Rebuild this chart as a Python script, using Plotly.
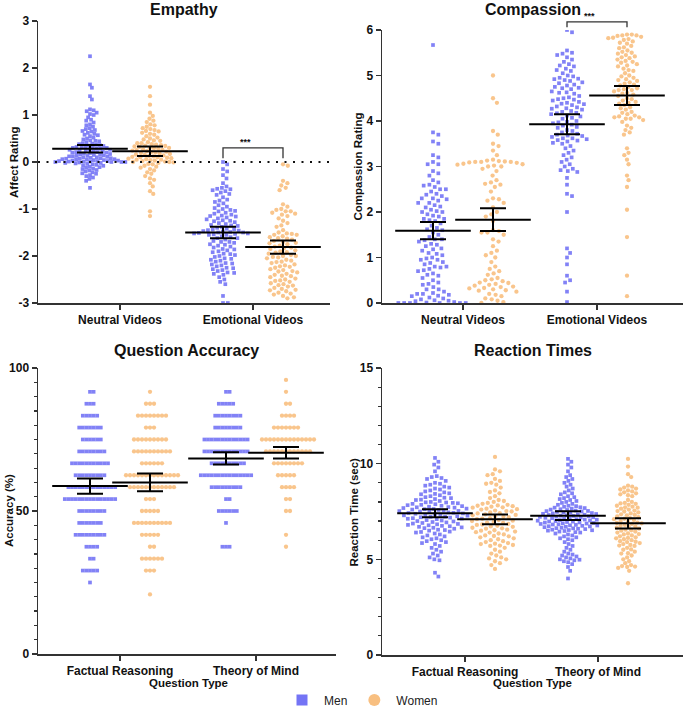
import numpy as np
import plotly.graph_objects as go

W, H = 685, 714
MEN_COLOR = '#7474F5'
WOMEN_COLOR = '#F8BF80'
AXIS_COLOR = '#333333'
FONT = 'Liberation Sans, Arial, sans-serif'

# ---------------- data ----------------
video_categories = ["Neutral Videos", "Emotional Videos"]
question_categories = ["Factual Reasoning", "Theory of Mind"]
groups = ["Men", "Women"]

empathy_neutral_men = [2.25, 1.65, 1.58, 1.40, 1.33, 1.12, 1.10, 1.08, 1.05, 1.02, 1.00, 0.95, 0.88, 0.84, 0.80,
    0.78, 0.75, 0.72, 0.70, 0.66, 0.62, 0.60, 0.58, 0.55, 0.52, 0.50, 0.48, 0.46, 0.44, 0.42, 0.40, 0.38, 0.37,
    0.35, 0.34, 0.33, 0.32, 0.30, 0.30, 0.28, 0.27, 0.26, 0.25, 0.24, 0.22, 0.21, 0.20, 0.20, 0.18, 0.17, 0.16,
    0.15, 0.14, 0.13, 0.12, 0.11, 0.10, 0.10, 0.09, 0.08, 0.07, 0.06, 0.05, 0.05, 0.04, 0.03, 0.02, 0.02, 0.01,
    0.00, 0.00, 0.00, -0.01, -0.02, -0.03, -0.04, -0.05, -0.06, -0.08, -0.10, -0.12, -0.14, -0.15, -0.18, -0.20,
    -0.22, -0.25, -0.28, -0.30, -0.33, -0.36, -0.40, -0.55, 0.36, 0.31, 0.29, 0.23, 0.19, 0.13, 0.08, 0.03, 0.01,
    0.06, 0.45, 0.39, 0.57, 0.65, 0.68, 0.90, -0.07, -0.11, -0.17, -0.24, 0.01, 0.04, 0.07, 0.12, 0.16, 0.21,
    0.26, 0.31, 0.00, -0.02, 0.02]
empathy_neutral_women = [1.60, 1.40, 1.22, 1.05, 0.98, 0.92, 0.88, 0.85, 0.80, 0.75, 0.72, 0.70, 0.68, 0.65, 0.62,
    0.60, 0.55, 0.52, 0.50, 0.48, 0.45, 0.42, 0.40, 0.40, 0.38, 0.36, 0.35, 0.33, 0.32, 0.30, 0.30, 0.28, 0.27,
    0.25, 0.24, 0.22, 0.21, 0.20, 0.18, 0.17, 0.15, 0.14, 0.12, 0.11, 0.10, 0.10, 0.08, 0.07, 0.05, 0.05, 0.04,
    0.03, 0.02, 0.01, 0.00, 0.00, -0.02, -0.04, -0.05, -0.08, -0.10, -0.12, -0.15, -0.18, -0.22, -0.25, -0.30,
    -0.35, -0.38, -0.45, -0.52, -0.62, -0.68, -1.05, -1.15, 0.58, 0.46, 0.37, 0.26, 0.19, 0.16, 0.09, 0.06, 0.13,
    0.23, 0.29, 0.34, -0.01, 0.78, 0.66]
empathy_emotional_men = [0.00, -0.05, -0.15, -0.20, -0.28, -0.35, -0.45, -0.52, -0.55, -0.57, -0.58, -0.60, -0.62,
    -0.65, -0.70, -0.75, -0.80, -0.85, -0.88, -0.92, -0.95, -1.00, -1.02, -1.05, -1.08, -1.10, -1.12, -1.15,
    -1.18, -1.20, -1.22, -1.25, -1.28, -1.30, -1.32, -1.35, -1.38, -1.40, -1.42, -1.45, -1.47, -1.48, -1.50,
    -1.50, -1.52, -1.52, -1.55, -1.55, -1.58, -1.60, -1.62, -1.65, -1.68, -1.70, -1.72, -1.75, -1.78, -1.80,
    -1.82, -1.85, -1.88, -1.90, -1.92, -1.95, -1.98, -2.00, -2.02, -2.05, -2.08, -2.10, -2.12, -2.15, -2.18,
    -2.20, -2.22, -2.25, -2.28, -2.30, -2.32, -2.35, -2.38, -2.40, -2.45, -2.50, -2.55, -2.60, -2.85, -3.00,
    -3.00, -1.49, -1.51, -1.53, -1.46, -1.43, -1.36, -1.26, -1.16, -0.98, -0.82, -0.68, -1.62, -1.70, -1.76,
    -1.86, -1.96, -2.06, -2.16, -2.26, -2.36, -1.54, -1.44, -1.34, -1.24, -1.14, -1.04]
empathy_emotional_women = [-0.05, -0.08, -0.40, -0.45, -0.50, -0.55, -0.60, -0.90, -0.95, -1.00, -1.02, -1.05,
    -1.05, -1.08, -1.10, -1.15, -1.20, -1.25, -1.30, -1.35, -1.45, -1.50, -1.52, -1.55, -1.55, -1.58, -1.60,
    -1.62, -1.65, -1.68, -1.70, -1.72, -1.75, -1.78, -1.80, -1.82, -1.85, -1.88, -1.90, -1.92, -1.95, -1.98,
    -2.00, -2.00, -2.02, -2.05, -2.08, -2.10, -2.12, -2.15, -2.18, -2.20, -2.22, -2.25, -2.28, -2.30, -2.32,
    -2.35, -2.38, -2.40, -2.42, -2.45, -2.48, -2.50, -2.52, -2.55, -2.58, -2.60, -2.62, -2.65, -2.68, -2.70,
    -2.72, -2.75, -2.78, -2.80, -2.82, -2.85, -2.88, -2.90, -1.53, -1.63, -1.73, -1.83, -1.93, -2.03, -2.13,
    -2.23, -2.33, -2.43, -2.53, -2.63, -2.73, -1.12, -1.38]

compassion_neutral_men = [5.67, 3.75, 3.70, 3.55, 3.50, 3.25, 3.20, 3.10, 3.05, 3.05, 2.90, 2.85, 2.80, 2.70, 2.65,
    2.60, 2.55, 2.50, 2.50, 2.45, 2.40, 2.35, 2.30, 2.30, 2.25, 2.20, 2.20, 2.15, 2.10, 2.05, 2.00, 2.00, 1.95,
    1.90, 1.85, 1.85, 1.80, 1.75, 1.70, 1.65, 1.60, 1.55, 1.50, 1.45, 1.40, 1.40, 1.35, 1.30, 1.25, 1.20, 1.15,
    1.10, 1.05, 1.00, 0.95, 0.95, 0.90, 0.85, 0.80, 0.80, 0.78, 0.75, 0.70, 0.65, 0.60, 0.55, 0.50, 0.45, 0.40,
    0.35, 0.30, 0.30, 0.25, 0.20, 0.20, 0.18, 0.15, 0.12, 0.10, 0.08, 0.05, 0.04, 0.02, 0.00, 0.00, 0.00, 0.00,
    0.00, 0.00, 2.28, 2.12, 2.02, 1.92, 1.38, 1.08, 0.98, 0.88, 0.72, 0.62, 0.42, 0.22, 0.16, 0.06, 0.01, 2.58,
    2.38, 1.82, 1.62, 1.28, 1.18]
compassion_neutral_women = [5.00, 4.50, 4.40, 3.78, 3.70, 3.50, 3.45, 3.35, 3.25, 3.15, 3.12, 3.10, 3.10, 3.10,
    3.08, 3.05, 3.02, 3.00, 3.00, 2.90, 2.80, 2.70, 2.65, 2.60, 2.55, 2.45, 2.30, 2.25, 2.20, 2.10, 2.00, 1.95,
    1.90, 1.80, 1.60, 1.55, 1.55, 1.50, 1.40, 1.35, 1.25, 1.10, 1.05, 1.00, 0.90, 0.80, 0.75, 0.70, 0.62, 0.55,
    0.52, 0.50, 0.45, 0.42, 0.40, 0.38, 0.35, 0.32, 0.30, 0.28, 0.25, 0.20, 0.15, 0.10, 0.05, 0.00, 3.13, 3.11,
    3.09, 3.06, 3.04, 2.95, 2.62, 2.28, 1.58, 0.48, 0.44, 0.36, 0.33, 0.27, 0.18, 0.08, 0.02, 0.65, 1.15]
compassion_emotional_men = [6.00, 5.95, 5.55, 5.50, 5.48, 5.45, 5.40, 5.35, 5.30, 5.25, 5.20, 5.15, 5.10, 5.05,
    5.00, 4.98, 4.95, 4.92, 4.90, 4.88, 4.85, 4.80, 4.78, 4.75, 4.72, 4.70, 4.65, 4.62, 4.60, 4.55, 4.52, 4.50,
    4.48, 4.45, 4.42, 4.40, 4.38, 4.35, 4.32, 4.30, 4.28, 4.25, 4.22, 4.20, 4.18, 4.15, 4.12, 4.10, 4.05, 4.00,
    3.98, 3.95, 3.92, 3.90, 3.85, 3.80, 3.78, 3.75, 3.72, 3.70, 3.65, 3.62, 3.60, 3.58, 3.55, 3.52, 3.50, 3.45,
    3.40, 3.35, 3.30, 3.25, 3.20, 3.15, 3.10, 3.05, 3.00, 2.95, 2.92, 2.90, 2.88, 2.75, 2.60, 2.40, 2.35, 2.00,
    1.20, 1.10, 1.00, 0.85, 0.60, 0.50, 0.45, 0.25, 0.02, 4.93, 4.83, 4.73, 4.63, 4.47, 4.37, 4.27, 4.17, 4.07,
    3.97, 3.87, 3.67, 3.57, 3.62, 3.68, 5.12, 5.22]
compassion_emotional_women = [5.90, 5.90, 5.88, 5.88, 5.85, 5.82, 5.80, 5.78, 5.75, 5.70, 5.65, 5.60, 5.55, 5.50,
    5.48, 5.45, 5.42, 5.40, 5.35, 5.30, 5.28, 5.25, 5.22, 5.20, 5.15, 5.10, 5.05, 5.00, 4.98, 4.95, 4.92, 4.90,
    4.85, 4.80, 4.78, 4.75, 4.72, 4.70, 4.68, 4.65, 4.62, 4.60, 4.55, 4.50, 4.48, 4.45, 4.42, 4.40, 4.35, 4.30,
    4.28, 4.25, 4.20, 4.15, 4.12, 4.10, 4.08, 4.05, 4.05, 4.02, 3.98, 3.90, 3.85, 3.80, 3.75, 3.70, 3.40, 3.30,
    3.25, 3.15, 3.05, 2.80, 2.70, 2.55, 2.05, 1.45, 0.60, 0.15, 5.87, 5.83, 5.72, 5.52, 5.32, 5.12, 4.88, 4.58,
    4.38, 4.18, 4.08, 4.68, 5.38, 5.62, 4.82]

accuracy_levels = [20.83, 25.0, 29.17, 33.33, 37.5, 41.67, 45.83, 50.0, 54.17, 58.33, 62.5, 66.67, 70.83, 75.0,
    79.17, 83.33, 87.5, 91.67, 95.83]
accuracy_factual_men_counts = [0, 1, 5, 2, 4, 9, 7, 8, 15, 14, 9, 11, 8, 6, 7, 5, 3, 2, 0]
accuracy_factual_women_counts = [1, 0, 3, 6, 2, 5, 10, 5, 3, 12, 14, 6, 10, 9, 3, 8, 3, 1, 0]
accuracy_tom_men_counts = [0, 0, 0, 0, 3, 0, 1, 6, 2, 9, 15, 10, 13, 13, 8, 8, 5, 2, 0]
accuracy_tom_women_counts = [0, 0, 0, 0, 1, 1, 0, 2, 2, 4, 5, 8, 12, 14, 7, 4, 2, 1, 1]

rt_factual_men = [10.30, 10.10, 9.95, 9.80, 9.60, 9.35, 9.30, 9.25, 9.20, 9.10, 9.00, 8.95, 8.90, 8.85, 8.80, 8.75,
    8.70, 8.65, 8.60, 8.55, 8.50, 8.45, 8.40, 8.35, 8.30, 8.25, 8.20, 8.15, 8.10, 8.05, 8.00, 7.98, 7.95, 7.90,
    7.88, 7.85, 7.80, 7.78, 7.75, 7.72, 7.70, 7.68, 7.65, 7.62, 7.60, 7.58, 7.55, 7.52, 7.50, 7.48, 7.45, 7.42,
    7.40, 7.38, 7.35, 7.32, 7.30, 7.28, 7.25, 7.22, 7.20, 7.18, 7.15, 7.12, 7.10, 7.05, 7.00, 6.98, 6.95, 6.90,
    6.85, 6.80, 6.78, 6.75, 6.70, 6.65, 6.60, 6.55, 6.50, 6.45, 6.40, 6.35, 6.30, 6.25, 6.20, 6.15, 6.10, 6.05,
    6.00, 5.95, 5.90, 5.85, 5.80, 5.70, 5.60, 5.50, 5.40, 5.30, 5.20, 5.10, 5.00, 4.95, 4.30, 4.10, 7.93, 7.83,
    7.73, 7.63, 7.53, 7.43, 7.33, 7.23, 7.13, 7.03, 6.93, 6.83, 6.73, 6.63, 6.53, 6.43, 8.42, 8.22, 8.12, 7.97,
    6.87, 6.67]
rt_factual_women = [10.35, 9.70, 9.60, 9.45, 9.40, 9.20, 9.10, 9.00, 8.95, 8.90, 8.60, 8.45, 8.30, 8.20, 8.10,
    8.05, 8.00, 7.95, 7.90, 7.85, 7.80, 7.78, 7.75, 7.70, 7.65, 7.60, 7.55, 7.50, 7.45, 7.40, 7.35, 7.30, 7.25,
    7.20, 7.15, 7.10, 7.05, 7.00, 6.95, 6.90, 6.85, 6.80, 6.75, 6.70, 6.65, 6.60, 6.55, 6.50, 6.45, 6.40, 6.35,
    6.30, 6.25, 6.20, 6.15, 6.10, 6.05, 6.00, 5.95, 5.90, 5.85, 5.80, 5.75, 5.70, 5.60, 5.50, 5.40, 5.30, 5.20,
    5.10, 5.05, 5.00, 4.90, 4.80, 4.70, 4.50, 7.82, 7.72, 7.62, 7.52, 7.42, 7.32, 7.22, 7.12, 7.02, 6.92, 6.82,
    6.72, 6.62, 6.52, 5.82, 5.72, 8.52, 8.75, 6.42, 6.22]
rt_tom_men = [10.25, 10.10, 9.95, 9.80, 9.60, 9.40, 9.30, 9.20, 9.10, 9.00, 8.90, 8.80, 8.70, 8.60, 8.50, 8.45,
    8.40, 8.30, 8.25, 8.20, 8.15, 8.10, 8.05, 8.00, 7.95, 7.90, 7.85, 7.80, 7.78, 7.75, 7.72, 7.70, 7.68, 7.65,
    7.62, 7.60, 7.58, 7.55, 7.52, 7.50, 7.48, 7.45, 7.42, 7.40, 7.38, 7.35, 7.32, 7.30, 7.28, 7.25, 7.22, 7.20,
    7.18, 7.15, 7.12, 7.10, 7.08, 7.05, 7.02, 7.00, 6.98, 6.95, 6.92, 6.90, 6.88, 6.85, 6.82, 6.80, 6.78, 6.75,
    6.72, 6.70, 6.68, 6.65, 6.62, 6.60, 6.58, 6.55, 6.52, 6.50, 6.48, 6.45, 6.42, 6.40, 6.35, 6.30, 6.25, 6.20,
    6.15, 6.10, 6.05, 6.00, 5.90, 5.80, 5.70, 5.60, 5.50, 5.40, 5.30, 5.20, 5.10, 5.05, 5.00, 4.95, 4.90, 4.85,
    4.75, 4.60, 4.40, 4.00, 7.53, 7.43, 7.33, 7.23, 7.13, 7.03, 6.93, 6.83, 6.73, 6.63, 6.53, 7.37, 7.27, 7.17,
    7.07, 6.97, 6.87, 6.77, 5.15, 5.25, 4.98]
rt_tom_women = [10.25, 9.85, 9.45, 9.30, 8.85, 8.80, 8.75, 8.70, 8.60, 8.50, 8.45, 8.40, 8.30, 8.10, 8.00, 7.95,
    7.90, 7.85, 7.80, 7.75, 7.70, 7.65, 7.60, 7.55, 7.50, 7.45, 7.40, 7.35, 7.30, 7.25, 7.20, 7.15, 7.10, 7.05,
    7.00, 6.95, 6.90, 6.85, 6.80, 6.75, 6.70, 6.65, 6.60, 6.55, 6.50, 6.45, 6.40, 6.35, 6.30, 6.25, 6.20, 6.15,
    6.10, 6.05, 6.00, 5.95, 5.90, 5.85, 5.80, 5.75, 5.70, 5.60, 5.50, 5.40, 5.30, 5.20, 5.10, 5.00, 4.90, 4.80,
    4.70, 4.65, 4.60, 4.55, 4.40, 3.75, 7.92, 7.72, 7.52, 7.32, 7.12, 6.92, 6.72, 6.52, 6.32, 6.12, 5.92, 5.72,
    5.52, 5.32, 8.55, 8.65, 8.35, 4.62, 6.88]

# group means and error half-widths: [neutral/factual, emotional/tom]
empathy_mean_men = [0.28, -1.50];   empathy_err_men = [0.08, 0.12]
empathy_mean_women = [0.23, -1.81]; empathy_err_women = [0.10, 0.14]
compassion_mean_men = [1.59, 3.93];   compassion_err_men = [0.19, 0.22]
compassion_mean_women = [1.83, 4.56]; compassion_err_women = [0.25, 0.21]
accuracy_mean_men = [58.7, 68.4];   accuracy_err_men = [2.7, 2.1]
accuracy_mean_women = [60.0, 70.4]; accuracy_err_women = [3.1, 2.0]
rt_mean_men = [7.41, 7.28];   rt_err_men = [0.21, 0.23]
rt_mean_women = [7.09, 6.88]; rt_err_women = [0.25, 0.27]

# ---------------- layout geometry (pixels) ----------------
panels = {
    'empathy':    dict(ax='', left=38, right=330, top=21, bottom=303, yr=(-3, 3), ticks=(120, 253)),
    'compassion': dict(ax='2', left=382, right=683, top=30, bottom=303, yr=(0, 6), ticks=(463, 597)),
    'accuracy':   dict(ax='3', left=38, right=336, top=368, bottom=654, yr=(0, 100), ticks=(120, 256)),
    'rt':         dict(ax='4', left=382, right=683, top=368, bottom=655, yr=(0, 15), ticks=(465, 598)),
}
GROUP_PX = 30
for p in panels.values():
    ppu = p['ticks'][1] - p['ticks'][0]
    p['ppu'] = ppu
    p['xr'] = (-(p['ticks'][0] - p['left']) / ppu, 1 + (p['right'] - p['ticks'][1]) / ppu)
    p['ypx'] = (p['bottom'] - p['top']) / (p['yr'][1] - p['yr'][0])
    p['off'] = GROUP_PX / ppu

# swarm spacing (px) per panel / category / group  [men, women]
SPACING = {
    ('empathy', 0): (3.8, 4.3), ('empathy', 1): (4.8, 5.0),
    ('compassion', 0): (5.8, 6.0), ('compassion', 1): (5.5, 4.8),
    ('accuracy', 0): (3.6, 4.0), ('accuracy', 1): (3.6, 4.0),
    ('rt', 0): (5.1, 5.3), ('rt', 1): (4.4, 4.3),
}


def swarm(vals, ypx, d):
    y = np.asarray(vals, dtype=float) * ypx
    offs = np.zeros(len(y))
    px_, py_ = [], []
    for i in np.argsort(-y, kind='stable'):
        yi = y[i]
        neigh = [(a, b) for a, b in zip(px_, py_) if abs(b - yi) < d]
        cands = [0.0]
        for a, b in neigh:
            dx = np.sqrt(d * d - (b - yi) ** 2)
            cands += [a + dx, a - dx]
        cands = sorted(cands, key=lambda c: round(abs(c), 6))
        for c in cands:
            if all((c - a) ** 2 + (yi - b) ** 2 >= d * d - 1e-6 for a, b in neigh):
                offs[i] = c
                break
        px_.append(offs[i]); py_.append(yi)
    return offs


fig = go.Figure()


def add_points(pkey, cat_idx, vals, men):
    p = panels[pkey]
    d = SPACING[(pkey, cat_idx)][0 if men else 1]
    offs = swarm(vals, p['ypx'], d) / p['ppu']
    center = cat_idx + (-p['off'] if men else p['off'])
    fig.add_trace(go.Scatter(
        x=center + offs, y=vals, mode='markers', showlegend=False, hoverinfo='skip',
        xaxis='x' + p['ax'], yaxis='y' + p['ax'],
        marker=dict(symbol='square' if men else 'circle', size=3.7 if men else 4.3,
                    color=MEN_COLOR if men else WOMEN_COLOR, opacity=0.9, line=dict(width=0))))


def add_means(pkey, means, errs, men):
    p = panels[pkey]
    xs = [i + (-p['off'] if men else p['off']) for i in range(2)]
    fig.add_trace(go.Scatter(
        x=xs, y=means, mode='markers', showlegend=False, hoverinfo='skip',
        xaxis='x' + p['ax'], yaxis='y' + p['ax'],
        marker=dict(symbol='line-ew', size=54, color='black', line=dict(width=2, color='black')),
        error_y=dict(type='data', array=errs, visible=True, color='black', thickness=2, width=13)))


add_points('empathy', 0, empathy_neutral_men, True)
add_points('empathy', 0, empathy_neutral_women, False)
add_points('empathy', 1, empathy_emotional_men, True)
add_points('empathy', 1, empathy_emotional_women, False)
add_points('compassion', 0, compassion_neutral_men, True)
add_points('compassion', 0, compassion_neutral_women, False)
add_points('compassion', 1, compassion_emotional_men, True)
add_points('compassion', 1, compassion_emotional_women, False)
add_points('accuracy', 0, list(np.repeat(accuracy_levels, accuracy_factual_men_counts)), True)
add_points('accuracy', 0, list(np.repeat(accuracy_levels, accuracy_factual_women_counts)), False)
add_points('accuracy', 1, list(np.repeat(accuracy_levels, accuracy_tom_men_counts)), True)
add_points('accuracy', 1, list(np.repeat(accuracy_levels, accuracy_tom_women_counts)), False)
add_points('rt', 0, rt_factual_men, True)
add_points('rt', 0, rt_factual_women, False)
add_points('rt', 1, rt_tom_men, True)
add_points('rt', 1, rt_tom_women, False)

add_means('empathy', empathy_mean_men, empathy_err_men, True)
add_means('empathy', empathy_mean_women, empathy_err_women, False)
add_means('compassion', compassion_mean_men, compassion_err_men, True)
add_means('compassion', compassion_mean_women, compassion_err_women, False)
add_means('accuracy', accuracy_mean_men, accuracy_err_men, True)
add_means('accuracy', accuracy_mean_women, accuracy_err_women, False)
add_means('rt', rt_mean_men, rt_err_men, True)
add_means('rt', rt_mean_women, rt_err_women, False)

# legend entries
fig.add_trace(go.Scatter(x=[None], y=[None], mode='markers', name=groups[0],
                         marker=dict(symbol='square', size=11, color=MEN_COLOR)))
fig.add_trace(go.Scatter(x=[None], y=[None], mode='markers', name=groups[1],
                         marker=dict(symbol='circle', size=12, color=WOMEN_COLOR)))

tickfont = dict(family=FONT, size=12, color='#111111', weight='bold')
layout = dict(width=W, height=H, margin=dict(l=0, r=0, t=0, b=0, autoexpand=False),
              paper_bgcolor='white', plot_bgcolor='white', font=dict(family=FONT),
              showlegend=True,
              legend=dict(orientation='h', x=280 / W, y=1 - 700 / H, xanchor='left', yanchor='middle',
                          font=dict(family=FONT, size=12, color='#222222'), itemwidth=34,
                          bgcolor='rgba(0,0,0,0)'))

panel_info = {
    'empathy': dict(cats=video_categories, title='Empathy', ytitle='Affect Rating', ytx=14,
                    tickvals=[-3, -2, -1, 0, 1, 2, 3], minor=None),
    'compassion': dict(cats=video_categories, title='Compassion', ytitle='Compassion Rating', ytx=357,
                       tickvals=[0, 1, 2, 3, 4, 5, 6], minor=None),
    'accuracy': dict(cats=question_categories, title='Question Accuracy', ytitle='Accuracy (%)', ytx=9,
                     tickvals=[0, 50, 100], minor=5),
    'rt': dict(cats=question_categories, title='Reaction Times', ytitle='Reaction Time (sec)', ytx=353,
               tickvals=[0, 5, 10, 15], minor=1),
}

annotations = []
for key, p in panels.items():
    info = panel_info[key]
    xname = 'xaxis' + p['ax']
    yname = 'yaxis' + p['ax']
    xd = [p['left'] / W, p['right'] / W]
    yd = [1 - p['bottom'] / H, 1 - p['top'] / H]
    layout[xname] = dict(domain=xd, range=list(p['xr']), anchor='y' + p['ax'],
                         tickvals=[0, 1], ticktext=info['cats'], ticks='outside', ticklen=5,
                         tickwidth=1.5, tickcolor=AXIS_COLOR, showline=True, linecolor=AXIS_COLOR,
                         linewidth=1.5, showgrid=False, zeroline=False, tickfont=tickfont, fixedrange=True)
    ydict = dict(domain=yd, range=list(p['yr']), anchor='x' + p['ax'],
                 tickvals=info['tickvals'], ticktext=[str(v) for v in info['tickvals']],
                 ticks='outside', ticklen=5, tickwidth=1.5, tickcolor=AXIS_COLOR, showline=True,
                 linecolor=AXIS_COLOR, linewidth=1.5, showgrid=False, zeroline=False, tickfont=tickfont,
                 fixedrange=True)
    if info['minor']:
        ydict['minor'] = dict(dtick=info['minor'], ticks='outside', ticklen=3, tickwidth=1.2,
                              tickcolor=AXIS_COLOR, showgrid=False)
    layout[yname] = ydict
    cx = (p['left'] + p['right']) / 2
    ty = 10 if p['top'] < 100 else 350
    annotations.append(dict(text='<b>%s</b>' % info['title'], x=cx / W, y=1 - ty / H, xref='paper',
                            yref='paper', showarrow=False, xanchor='center', yanchor='middle',
                            font=dict(family=FONT, size=16, color='#111111')))
    annotations.append(dict(text='<b>%s</b>' % info['ytitle'], x=info['ytx'] / W,
                            y=1 - (p['top'] + p['bottom']) / 2 / H, xref='paper', yref='paper',
                            textangle=-90, showarrow=False, xanchor='center', yanchor='middle',
                            font=dict(family=FONT, size=11.5, color='#111111')))
    if key in ('accuracy', 'rt'):
        annotations.append(dict(text='<b>Question Type</b>', x=(p['left'] + 150) / W, y=1 - 683 / H,
                                xref='paper', yref='paper', showarrow=False, xanchor='center',
                                yanchor='middle', font=dict(family=FONT, size=11.5, color='#111111')))

shapes = []
# dotted zero line on empathy panel
shapes.append(dict(type='line', xref='x domain', yref='y', x0=0, x1=1, y0=0, y1=0,
                   line=dict(color='#111111', width=2, dash='2px,6.5px'), layer='above'))


def bracket(pkey, y_top, y_leg):
    p = panels[pkey]
    xr, yr = p['xr'], p['yr']
    fx = lambda v: (v - xr[0]) / (xr[1] - xr[0])
    fy = lambda v: (v - yr[0]) / (yr[1] - yr[0])
    x0, x1 = fx(1 - p['off']), fx(1 + p['off'])
    ref = 'x' + p['ax']
    shapes.append(dict(type='path', xref=ref + ' domain', yref='y' + p['ax'] + ' domain',
                       path='M %f,%f L %f,%f L %f,%f L %f,%f' % (x0, fy(y_leg), x0, fy(y_top), x1, fy(y_top),
                                                                 x1, fy(y_leg)),
                       line=dict(color='#333333', width=1.3)))
    annotations.append(dict(text='<b>***</b>', x=(x0 + x1) / 2, y=fy(y_top), xref=ref + ' domain',
                            yref='y' + p['ax'] + ' domain', showarrow=False, yanchor='bottom',
                            yshift=-1, font=dict(family=FONT, size=9, color='#111111')))


bracket('empathy', 0.30, 0.08)
bracket('compassion', 6.18, 6.06)

layout['annotations'] = annotations
layout['shapes'] = shapes
fig.update_layout(**layout)
fig.write_html('out.html', config={'displayModeBar': False, 'staticPlot': True},
               post_script="document.body.style.margin='0';")
